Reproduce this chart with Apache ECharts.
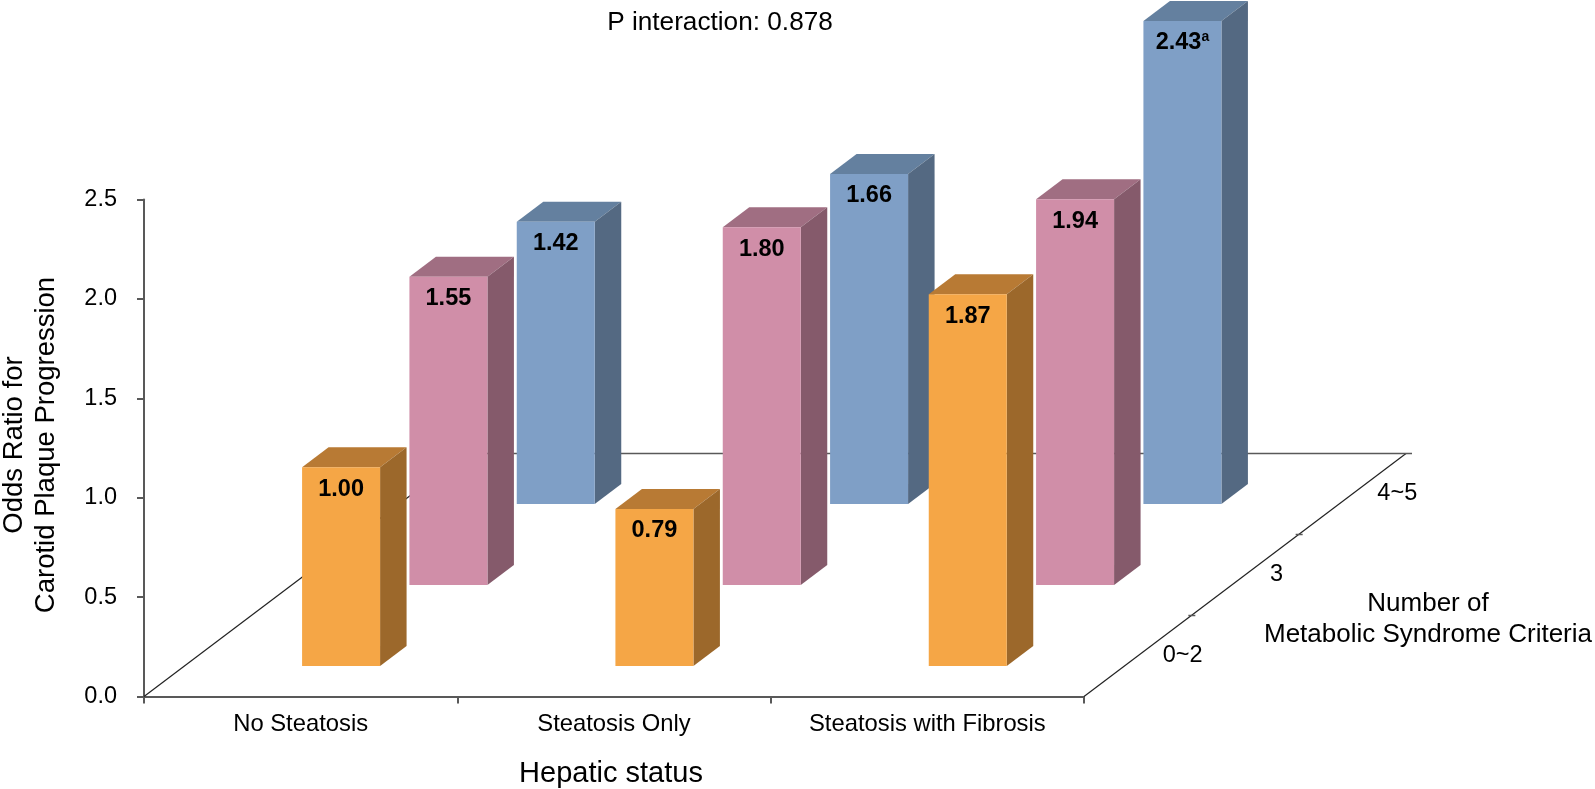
<!DOCTYPE html>
<html>
<head>
<meta charset="utf-8">
<title>Odds ratio for carotid plaque progression</title>
<script src="https://cdn.jsdelivr.net/npm/echarts@6/dist/echarts.min.js"></script>
<style>
  html, body { margin: 0; padding: 0; background: #fff; }
  #main { width: 1595px; height: 789px; }
</style>
</head>
<body>
<div id="main"></div>
<script>
const hepaticStatus = ['No Steatosis', 'Steatosis Only', 'Steatosis with Fibrosis']
const criteria = ['0~2', '3', '4~5']
const yTicks = [0, 0.5, 1, 1.5, 2, 2.5]

const criteria0to2 = [1.00, 0.79, 1.87]
const criteria3 = [1.55, 1.80, 1.94]
const criteria4to5 = [1.42, 1.66, 2.43]
const notes4to5 = ['', '', 'a']

const fontName = '"Liberation Sans", Arial, sans-serif'
const axisColor = '#595959'

// depth of the floor on screen, and of one bar
const floorX = 322, floorY = 243
const barW = 78, barDepthX = 26.5, barDepthY = 20

var myChart = echarts.init(document.getElementById('main'))

function poly(points, fill) {
  return { type: 'polygon', shape: { points: points }, style: { fill: fill } }
}

function barRenderer(row, colors, notes) {
  return function (params, api) {
    const cat = api.value(0)
    const val = api.value(1)
    const base = api.coord([cat, 0])
    const head = api.coord([cat, val])
    const dx = floorX * (row + 0.5) / criteria.length
    const dy = floorY * (row + 0.5) / criteria.length
    const left = base[0] + dx - barW / 2 - barDepthX / 2
    const right = left + barW
    const bottom = base[1] - dy + barDepthY / 2
    const top = head[1] - dy + barDepthY / 2
    const note = notes ? notes[cat] : ''
    return {
      type: 'group',
      children: [
        poly([[left, top], [left + barDepthX, top - barDepthY], [right + barDepthX, top - barDepthY], [right, top]], colors.top),
        poly([[right, top], [right + barDepthX, top - barDepthY], [right + barDepthX, bottom - barDepthY], [right, bottom]], colors.side),
        poly([[left, top], [right, top], [right, bottom], [left, bottom]], colors.front),
        {
          type: 'text',
          style: {
            text: '{v|' + val.toFixed(2) + '}' + (note ? '{sup|' + note + '}' : ''),
            x: (left + right) / 2,
            y: top + 22,
            align: 'center',
            verticalAlign: 'middle',
            rich: {
              v: { fontFamily: fontName, fontWeight: 'bold', fontSize: 23.5, fill: '#000', lineHeight: 26 },
              sup: { fontFamily: fontName, fontWeight: 'bold', fontSize: 14, fill: '#000', verticalAlign: 'top', lineHeight: 26, padding: [0, 0, 10, 0] }
            }
          }
        }
      ]
    }
  }
}

function renderFloor(params, api) {
  const g = params.coordSys
  const x0 = g.x, x1 = g.x + g.width, y0 = g.y + g.height
  const children = [
    { type: 'line', shape: { x1: x0, y1: y0, x2: x0 + floorX, y2: y0 - floorY }, style: { stroke: '#222', lineWidth: 1.2 } },
    { type: 'line', shape: { x1: x1, y1: y0, x2: x1 + floorX, y2: y0 - floorY }, style: { stroke: '#222', lineWidth: 1.2 } },
    { type: 'line', shape: { x1: x0 + floorX, y1: y0 - floorY, x2: x1 + floorX + 6, y2: y0 - floorY }, style: { stroke: axisColor, lineWidth: 1.5 } }
  ]
  criteria.forEach(function (name, i) {
    const n = criteria.length
    if (i > 0) {
      const tx = x1 + floorX * i / n, ty = y0 - floorY * i / n
      children.push({ type: 'line', shape: { x1: tx - 3, y1: ty, x2: tx + 4, y2: ty }, style: { stroke: axisColor, lineWidth: 1.5 } })
    }
    children.push({
      type: 'text',
      style: {
        text: name,
        x: x1 + floorX * (i + 0.5) / n + 25,
        y: y0 - floorY * (i + 0.5) / n,
        align: 'left',
        verticalAlign: 'middle',
        fontFamily: fontName,
        fontSize: 23.5,
        fill: '#000'
      }
    })
  })
  return { type: 'group', children: children }
}

function toData(values) {
  return values.map(function (v, i) { return [i, v] })
}

const orange = { front: '#f5a646', top: '#b87a34', side: '#9c682b' }
const pink = { front: '#d08ea8', top: '#a06e82', side: '#855a6b' }
const blue = { front: '#7f9fc6', top: '#64809f', side: '#546982' }

var option = {
  animation: false,
  title: {
    text: 'P interaction: 0.878',
    left: 715,
    top: 5,
    textAlign: 'center',
    textStyle: { fontFamily: fontName, fontSize: 26.2, fontWeight: 'normal', color: '#000' }
  },
  grid: { left: 144, top: 199.5, width: 940, height: 497, outerBoundsMode: 'none' },
  xAxis: {
    type: 'category',
    data: hepaticStatus,
    name: 'Hepatic status',
    nameLocation: 'middle',
    nameGap: 63,
    nameTextStyle: { fontFamily: fontName, fontSize: 29, color: '#000', padding: [0, 0, 0, -6] },
    axisLine: { lineStyle: { color: axisColor, width: 2 } },
    axisTick: { show: true, length: 7, lineStyle: { color: axisColor, width: 2 } },
    axisLabel: { fontFamily: fontName, fontSize: 23.8, color: '#000', margin: 16, interval: 0 },
    splitLine: { show: false }
  },
  yAxis: {
    type: 'value',
    min: yTicks[0],
    max: yTicks[yTicks.length - 1],
    interval: yTicks[1] - yTicks[0],
    name: 'Odds Ratio for\nCarotid Plaque Progression',
    nameLocation: 'middle',
    nameGap: 82,
    nameRotate: 90,
    nameTextStyle: { fontFamily: fontName, fontSize: 27.5, color: '#000', lineHeight: 32, padding: [0, 0, 0, 6] },
    axisLine: { show: true, lineStyle: { color: axisColor, width: 2 } },
    axisTick: { show: true, length: 7, lineStyle: { color: axisColor, width: 2 } },
    axisLabel: { fontFamily: fontName, fontSize: 23.5, color: '#000', margin: 27, padding: [2, 0, 0, 0], formatter: function (v) { return v.toFixed(1) } },
    splitLine: { show: false }
  },
  graphic: [{
    type: 'text',
    x: 1428,
    y: 619.5,
    style: {
      text: 'Number of\nMetabolic Syndrome Criteria',
      align: 'center',
      verticalAlign: 'middle',
      fontFamily: fontName,
      fontSize: 26,
      lineHeight: 31,
      fill: '#000'
    }
  }],
  series: [
    { type: 'custom', z: 1, data: [[0, 0]], encode: { x: 0, y: 1 }, silent: true, renderItem: renderFloor },
    { type: 'custom', z: 2, data: toData(criteria4to5), encode: { x: 0, y: 1 }, renderItem: barRenderer(2, blue, notes4to5) },
    { type: 'custom', z: 3, data: toData(criteria3), encode: { x: 0, y: 1 }, renderItem: barRenderer(1, pink) },
    { type: 'custom', z: 4, data: toData(criteria0to2), encode: { x: 0, y: 1 }, renderItem: barRenderer(0, orange) }
  ]
}

myChart.setOption(option)
</script>
</body>
</html>
